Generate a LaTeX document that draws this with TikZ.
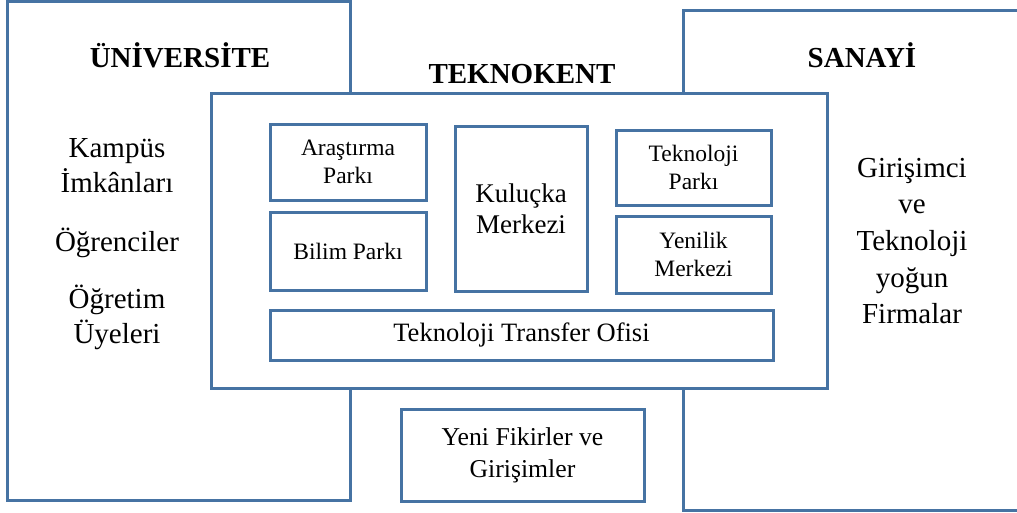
\documentclass[tikz,border=0pt]{standalone}
\usepackage{fontspec}
\setmainfont{Liberation Serif}
\definecolor{boxblue}{RGB}{70,115,163}
\tikzset{
  frame/.style={draw=boxblue, line width=3pt, fill=white, rectangle, inner sep=0pt, align=center},
  lbl/.style={anchor=base, inner sep=0pt, font=\fontsize{29}{35}\selectfont},
  ttl/.style={anchor=base, inner sep=0pt, font=\fontsize{29}{35}\selectfont\bfseries},
  small/.style={font=\fontsize{23.5}{28.5}\selectfont},
}
\begin{document}
\begin{tikzpicture}[x=1pt,y=-1pt]
\useasboundingbox (0,0) rectangle (1017,512);
\clip (0,0) rectangle (1017,512);
% outer boxes
\node[frame, minimum width=343pt, minimum height=499pt] (uni) at (178.5,250.5) {};
\node[frame, minimum width=357pt, minimum height=500pt] (san) at (861.5,260) {};
% teknokent
\node[frame, minimum width=616pt, minimum height=295pt] (tk) at (519,240.5) {};
% inner boxes
\node[frame, small, minimum width=156pt, minimum height=76pt] (ara) at (348,162) {Araştırma\\Parkı};
\node[frame, small, minimum width=156pt, minimum height=78pt] (bil) at (348,251) {Bilim Parkı};
\node[frame, font=\fontsize{27}{31}\selectfont, minimum width=132pt, minimum height=165pt] (kul) at (521,208.5) {Kuluçka\\Merkezi};
\node[frame, small, minimum width=155pt, minimum height=75pt] (tek) at (693.5,167.5) {Teknoloji\\Parkı};
\node[frame, small, minimum width=155pt, minimum height=77pt] (yen) at (693.5,254.5) {Yenilik\\Merkezi};
\node[frame, font=\fontsize{26.5}{31}\selectfont, minimum width=503pt, minimum height=50pt] (tto) at (521.5,335) {Teknoloji Transfer Ofisi};
\node[frame, font=\fontsize{25.7}{32}\selectfont, minimum width=243pt, minimum height=92pt] (yeni) at (522.5,455) {Yeni Fikirler ve\\Girişimler};
% titles
\node[ttl] (tuni) at (180,67) {ÜNİVERSİTE};
\node[ttl] (ttk) at (522,83) {TEKNOKENT};
\node[ttl] (tsan) at (862,67) {SANAYİ};
% university texts
\node[lbl] (u1) at (117,157) {Kampüs};
\node[lbl] (u2) at (117,192) {İmkânları};
\node[lbl] (u3) at (117,251) {Öğrenciler};
\node[lbl] (u4) at (117,308) {Öğretim};
\node[lbl] (u5) at (117,343) {Üyeleri};
% industry texts
\node[lbl] (s1) at (912,177) {Girişimci};
\node[lbl] (s2) at (912,213) {ve};
\node[lbl] (s3) at (912,250) {Teknoloji};
\node[lbl] (s4) at (912,287) {yoğun};
\node[lbl] (s5) at (912,323) {Firmalar};
\end{tikzpicture}
\end{document}
